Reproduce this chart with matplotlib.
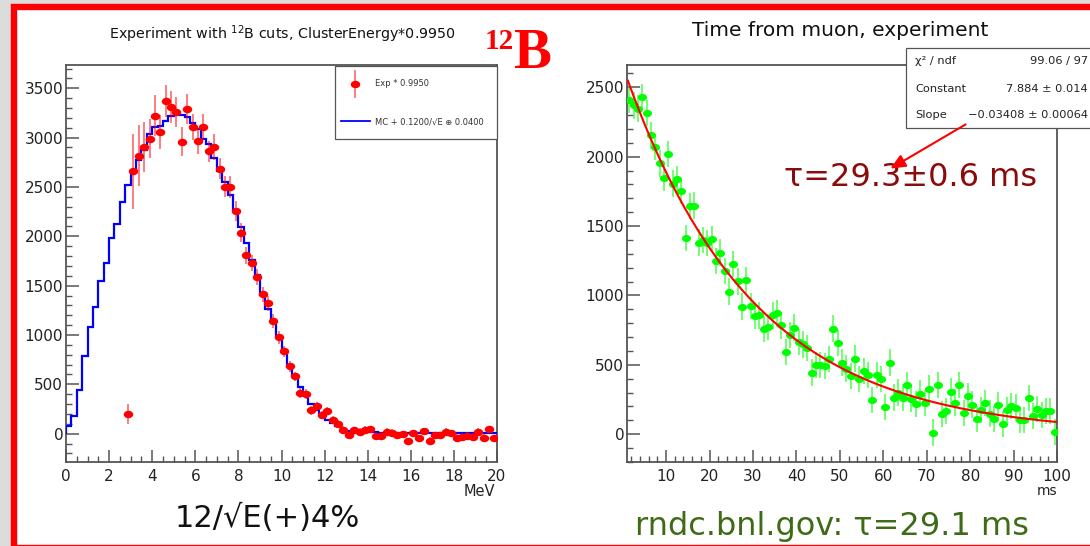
import numpy as np
import matplotlib
matplotlib.use("Agg")
import matplotlib.pyplot as plt
from matplotlib.patches import Rectangle, FancyArrowPatch
from matplotlib.lines import Line2D
from matplotlib.path import Path
from matplotlib.transforms import Affine2D
from matplotlib.ticker import MultipleLocator

W, H, DPI = 1090, 546, 100
plt.rcParams['font.family'] = ['DejaVu Sans']

# ---------------- data: left panel (12B energy spectrum) ----------------
E_BIN_WIDTH = 0.25
E_RANGE = (0.0, 20.0)
mc_counts = [74, 175, 440, 790, 1080, 1280, 1550, 1730,
             1985, 2123, 2349, 2525, 2659, 2770, 2878, 3033,
             3107, 3115, 3165, 3215, 3252, 3225, 3210, 3148,
             3091, 2990, 2939, 2790, 2665, 2555, 2417, 2265,
             2093, 1928, 1755, 1608, 1405, 1261, 1150, 984,
             816, 681, 586, 469, 388, 303, 236, 185,
             135, 108, 74, 47, 30, 22, 20, 18,
             16, 12, 10, 9, 8, 8, 7, 7,
             6, 6, 6, 5, 5, 5, 5, 4,
             4, 4, 4, 3, 3, 3, 3, 3]
exp_first_bin = 11
exp_counts = [200, 2659, 2817, 2905, 2990, 3222, 3057, 3370,
              3310, 3259, 2956, 3293, 3107, 2966, 3107, 2860,
              2905, 2686, 2503, 2503, 2257, 2035, 1807, 1730,
              1590, 1412, 1321, 1140, 977, 833, 681, 580,
              411, 404, 236, 276, 185, 233, 135, 101,
              40, -17, 33, 20, 40, 47, -27, -20,
              20, 10, -13, -3, -78, 3, -47, 27,
              -70, -13, -13, 20, 3, -40, -30, -23,
              -30, 20, -40, 44, -47]
exp_errors = [100, 380, 310, 258, 200, 210, 177, 166,
              164, 152, 147, 152, 135, 127, 135, 110,
              127, 110, 105, 110, 100, 95, 85, 85,
              80, 75, 75, 70, 65, 60, 55, 50,
              50, 50, 45, 45, 40, 40, 40, 35,
              35, 35, 35, 35, 35, 35, 35, 35,
              35, 35, 35, 35, 35, 35, 35, 35,
              35, 35, 35, 35, 35, 35, 35, 35,
              35, 35, 35, 35, 35]

# ---------------- data: right panel (time from muon) ----------------
T_BIN_WIDTH = 1.0
T_RANGE = (1.0, 100.0)
time_counts = [2409, 2370, 2347, 2430, 2313, 2154, 2070, 1952, 1849, 2020,
               1806, 1837, 1753, 1412, 1645, 1648, 1381, 1400, 1378, 1405,
               1249, 1309, 1175, 1028, 1225, 1102, 920, 1110, 925, 853,
               857, 757, 773, 857, 871, 785, 593, 713, 768, 665,
               648, 620, 444, 500, 497, 492, 540, 762, 658, 516,
               473, 420, 545, 396, 456, 425, 247, 425, 396, 197,
               516, 264, 300, 264, 353, 252, 216, 293, 223, 329,
               12, 353, 144, 168, 308, 228, 353, 151, 276, 214,
               108, 175, 223, 149, 108, 209, 72, 175, 204, 192,
               103, 103, 259, 132, 180, 139, 168, 168, 17]
time_err = 95
fit_constant = 7.884
fit_slope = -0.03408

# ---------------- figure ----------------
fig = plt.figure(figsize=(W / DPI, H / DPI), dpi=DPI)
fig.patch.set_facecolor('#dcdcdc')

def fx(x):
    return x / W

def fy(y):
    return 1 - y / H

# slide background with red border
fig.add_artist(Rectangle((fx(13.5), fy(547.5)), fx(1100 - 13.5), (547.5 - 7) / H,
                         transform=fig.transFigure, facecolor='white',
                         edgecolor='#ff0000', linewidth=4.6, zorder=-5, clip_on=False))

ax1 = fig.add_axes([fx(66), fy(462), 431 / W, 397 / H])
ax2 = fig.add_axes([fx(627), fy(462), 430 / W, 397 / H])

ell = Path.unit_circle().transformed(Affine2D().scale(1.0, 0.75))

FRAME = '#555555'
for ax in (ax1, ax2):
    for s in ax.spines.values():
        s.set_color(FRAME)
        s.set_linewidth(1.3)
    ax.tick_params(which='both', direction='in', colors=FRAME, labelcolor='#222222',
                   labelsize=11, top=False, right=False)
    ax.tick_params(which='major', length=9, width=1.1)
    ax.tick_params(which='minor', length=4.5, width=1.0)
    ax.tick_params(axis='x', pad=5)
    ax.tick_params(axis='y', pad=2)

# ---- left panel ----
edges = np.arange(E_RANGE[0], E_RANGE[1] + 1e-9, E_BIN_WIDTH)
centers = edges[:-1] + E_BIN_WIDTH / 2
ax1.stairs(mc_counts, edges, color='#0000ff', linewidth=1.6, zorder=3)
xe = centers[exp_first_bin:exp_first_bin + len(exp_counts)]
ax1.errorbar(xe, exp_counts, yerr=exp_errors, xerr=E_BIN_WIDTH / 2, fmt='none',
             ecolor=(1, 0, 0, 0.55), elinewidth=1.3, capsize=0, zorder=4)
ax1.plot(xe, exp_counts, linestyle='none', marker=ell, markersize=5.8,
         color='#ff0000', zorder=5)
ax1.set_xlim(*E_RANGE)
ax1.set_ylim(-287, 3736)
ax1.xaxis.set_major_locator(MultipleLocator(2))
ax1.xaxis.set_minor_locator(MultipleLocator(0.5))
ax1.yaxis.set_major_locator(MultipleLocator(500))
ax1.yaxis.set_minor_locator(MultipleLocator(100))

# ---- right panel ----
tedges = np.arange(T_RANGE[0], T_RANGE[1] + 1e-9, T_BIN_WIDTH)
tcent = tedges[:-1] + T_BIN_WIDTH / 2
ax2.errorbar(tcent, time_counts, yerr=time_err, xerr=T_BIN_WIDTH / 2, fmt='none',
             ecolor=(0, 1, 0, 0.6), elinewidth=1.3, capsize=0, zorder=3)
ax2.plot(tcent, time_counts, linestyle='none', marker=ell, markersize=5.5,
         color='#00ff00', zorder=4)
tt = np.linspace(T_RANGE[0] + 0.2, T_RANGE[1], 300)
ax2.plot(tt, np.exp(fit_constant + fit_slope * tt), color='#ff0000', linewidth=1.5, zorder=5)
ax2.set_xlim(*T_RANGE)
ax2.set_ylim(-200, 2661)
ax2.xaxis.set_major_locator(MultipleLocator(10))
ax2.xaxis.set_minor_locator(MultipleLocator(2))
ax2.yaxis.set_major_locator(MultipleLocator(500))
ax2.yaxis.set_minor_locator(MultipleLocator(100))

# ---- titles and labels ----
fig.text(fx(282), fy(34), 'Experiment with $^{12}$B cuts, ClusterEnergy*0.9950',
         ha='center', va='center', fontsize=10.3, color='#111111')
fig.text(fx(485), fy(28), '12', ha='left', va='top', fontsize=21,
         family='Liberation Serif', weight='bold', color='#ff0000')
fig.text(fx(513), fy(68), 'B', ha='left', va='baseline', fontsize=41,
         family='Liberation Serif', weight='bold', color='#ff0000')
fig.text(fx(840), fy(30), 'Time from muon, experiment', ha='center', va='center',
         fontsize=14.5, color='#111111')
fig.text(fx(495), fy(491), 'MeV', ha='right', va='center', fontsize=10.5, color='#222222')
fig.text(fx(1057), fy(491), 'ms', ha='right', va='center', fontsize=10, color='#222222')
fig.text(fx(267), fy(518), '12/√E(+)4%', ha='center', va='center', fontsize=22, color='#111111')
fig.text(fx(832), fy(527), 'rndc.bnl.gov: τ=29.1 ms', ha='center', va='center',
         fontsize=23, color='#3f6b17')
fig.text(fx(911), fy(178), 'τ=29.3±0.6 ms', ha='center', va='center',
         fontsize=23, color='#8b0a0a', zorder=4)

# arrow from stats box to tau label
fig.add_artist(FancyArrowPatch(
    (fx(968), fy(123)), (fx(888), fy(170)), transform=fig.transFigure,
    arrowstyle='-|>,head_length=9,head_width=4', color='#ff0000', linewidth=1.5,
    zorder=6))

# ---- legend (left panel) ----
fig.add_artist(Rectangle((fx(335), fy(139)), 162 / W, 73 / H, transform=fig.transFigure,
                         facecolor='white', edgecolor=FRAME, linewidth=0.9, zorder=5))
fig.add_artist(Line2D([fx(355), fx(355)], [fy(71), fy(97)], transform=fig.transFigure,
                      color=(1, 0, 0, 0.55), linewidth=1.3, zorder=6))
fig.add_artist(Line2D([fx(355)], [fy(84)], transform=fig.transFigure, marker=ell,
                      markersize=5.8, color='#ff0000', linestyle='none', zorder=7))
fig.text(fx(375), fy(84), 'Exp * 0.9950', ha='left', va='center', fontsize=6,
         color='#333333', zorder=7)
fig.add_artist(Line2D([fx(341), fx(370)], [fy(121), fy(121)], transform=fig.transFigure,
                      color='#0000ff', linewidth=1.3, zorder=6))
fig.text(fx(375), fy(122), 'MC + 0.1200/√E ⊕ 0.0400', ha='left', va='center',
         fontsize=6, color='#333333', zorder=7)

# ---- stats box (right panel) ----
fig.add_artist(Rectangle((fx(906), fy(128)), 210 / W, 80 / H, transform=fig.transFigure,
                         facecolor='white', edgecolor=FRAME, linewidth=0.9, zorder=5,
                         clip_on=False))
rows = [('χ² / ndf', '99.06 / 97', 61),
        ('Constant', '7.884 ± 0.014', 89),
        ('Slope', '−0.03408 ± 0.00064', 115)]
for lab, val, yy in rows:
    fig.text(fx(915), fy(yy), lab, ha='left', va='center', fontsize=8.2, color='#222222', zorder=7)
    fig.text(fx(1088), fy(yy), val, ha='right', va='center', fontsize=8.2, color='#222222', zorder=7)

fig.savefig('out.png', dpi=DPI, facecolor=fig.get_facecolor())
